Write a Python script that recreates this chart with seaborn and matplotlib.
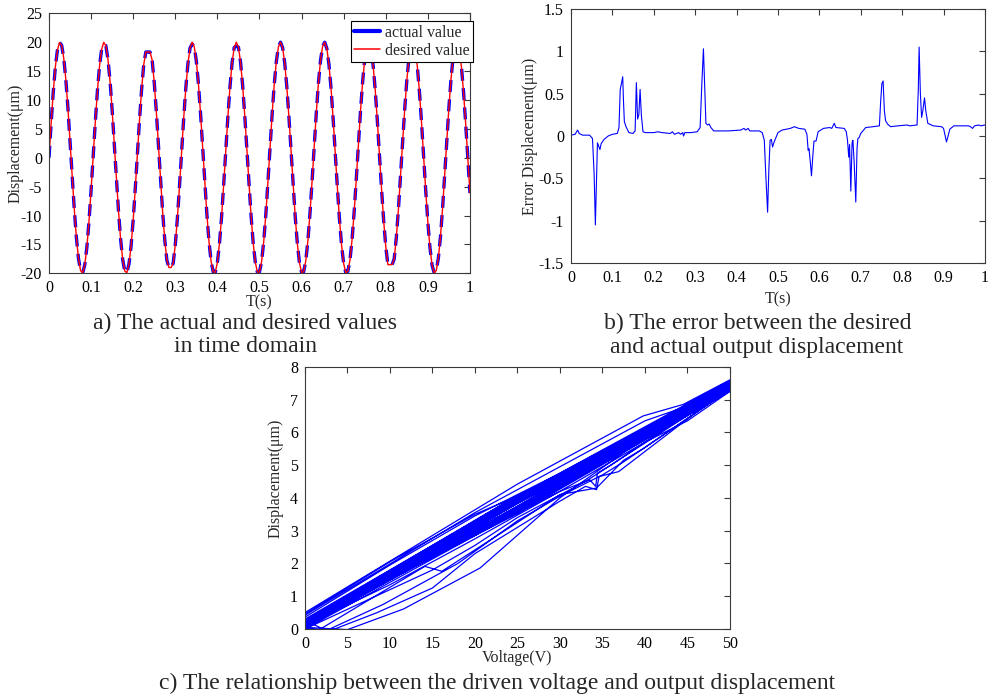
import numpy as np
import matplotlib
matplotlib.use("Agg")
import matplotlib.pyplot as plt
import seaborn as sns
from matplotlib.lines import Line2D

# ---------------- panel a: actual vs desired (sampled every 5 ms) ----------------
sample_step = 0.005
desired_value = [
    0.00, 5.91, 11.29, 15.67, 18.64, 19.95, 19.48, 17.26, 13.51, 8.55, 2.82, -3.15, -8.85, -13.76, -17.43, -19.55, -19.92, -18.52, -15.46, -11.01, -5.59,
    0.34, 6.23, 11.57, 15.88, 18.76, 19.97, 19.40, 17.09, 13.26, 8.24, 2.49, -3.49, -9.15, -14.00, -17.60, -19.62, -19.89, -18.39, -15.24, -10.73, -5.27,
    0.67, 6.55, 11.84, 16.08, 18.30, 18.30, 18.30, 16.91, 13.01, 7.94, 2.15, -3.82, -9.45, -14.24, -17.75, -19.00, -19.00, -18.25, -15.02, -10.45, -4.94,
    1.01, 6.87, 12.11, 16.27, 18.98, 20.00, 19.22, 16.73, 12.75, 7.63, 1.82, -4.15, -9.74, -14.47, -17.90, -19.74, -19.81, -18.11, -14.80, -10.16, -4.61,
    1.34, 7.18, 12.38, 16.47, 19.09, 20.00, 19.13, 16.55, 12.49, 7.31, 1.49, -4.48, -10.04, -14.70, -18.05, -19.79, -19.76, -17.97, -14.57, -9.87, -4.28,
    1.68, 7.49, 12.64, 16.66, 19.18, 20.00, 19.03, 16.36, 12.22, 7.00, 1.15, -4.80, -10.32, -14.93, -18.19, -19.84, -19.71, -17.82, -14.33, -9.57, -3.96,
    2.01, 7.80, 12.90, 16.84, 19.28, 19.99, 18.92, 16.16, 11.96, 6.68, 0.81, -5.13, -10.61, -15.15, -18.33, -19.88, -19.65, -17.66, -14.10, -9.28, -3.63,
    2.35, 8.11, 13.15, 17.02, 19.36, 19.98, 18.81, 15.96, 11.68, 6.37, 0.48, -5.45, -10.89, -15.37, -18.50, -18.50, -18.50, -17.50, -13.86, -8.98, -3.29,
    2.68, 8.42, 13.41, 17.19, 19.44, 19.96, 18.69, 15.75, 11.41, 6.05, 0.14, -5.78, -11.18, -15.58, -18.59, -19.94, -19.51, -17.34, -13.61, -8.68, -2.96,
    3.02, 8.72, 13.65, 17.36, 19.52, 19.94, 18.57, 15.54, 11.13, 5.72, -0.20, -6.10,
]
actual_value = [
    0.00, 5.91, 11.29, 15.67, 18.64, 19.95, 19.48, 17.26, 13.51, 8.55, 2.82, -3.15, -8.85, -13.76, -17.43, -19.55, -19.92, -18.52, -15.46, -11.01, -5.59,
    0.34, 6.23, 11.57, 15.88, 18.76, 19.50, 19.40, 17.09, 13.26, 8.24, 2.49, -3.49, -9.15, -14.00, -17.60, -19.62, -19.89, -18.39, -15.24, -10.73, -5.27,
    0.67, 6.55, 11.84, 16.08, 18.30, 18.30, 18.30, 16.91, 13.01, 7.94, 2.15, -3.82, -9.45, -14.24, -17.75, -19.00, -19.00, -18.25, -15.02, -10.45, -4.94,
    1.01, 6.87, 12.11, 16.27, 18.98, 19.70, 19.22, 16.73, 12.75, 7.63, 1.82, -4.15, -9.74, -14.47, -17.90, -19.74, -19.81, -18.11, -14.80, -10.16, -4.61,
    1.34, 7.18, 12.38, 16.47, 19.09, 19.30, 19.13, 16.55, 12.49, 7.31, 1.49, -4.48, -10.04, -14.70, -18.05, -19.79, -19.76, -17.97, -14.57, -9.87, -4.28,
    1.68, 7.49, 12.64, 16.66, 19.18, 20.00, 19.03, 16.36, 12.22, 7.00, 1.15, -4.80, -10.32, -14.93, -18.19, -19.84, -19.71, -17.82, -14.33, -9.57, -3.96,
    2.01, 7.80, 12.90, 16.84, 19.28, 19.99, 18.92, 16.16, 11.96, 6.68, 0.81, -5.13, -10.61, -15.15, -18.33, -19.88, -19.65, -17.66, -14.10, -9.28, -3.63,
    2.35, 8.11, 13.15, 17.02, 19.36, 19.98, 18.81, 15.96, 11.68, 6.37, 0.48, -5.45, -10.89, -15.37, -18.50, -18.50, -18.50, -17.50, -13.86, -8.98, -3.29,
    2.68, 8.42, 13.41, 17.19, 19.44, 19.96, 18.69, 15.75, 11.41, 6.05, 0.14, -5.78, -11.18, -15.58, -18.59, -19.94, -19.51, -17.34, -13.61, -8.68, -2.96,
    3.02, 8.72, 13.65, 17.36, 19.52, 19.94, 18.57, 15.54, 11.13, 5.72, -0.20, -6.10,
]
time_s = np.round(np.arange(len(desired_value)) * sample_step, 3)

a_xticks = [0, 0.1, 0.2, 0.3, 0.4, 0.5, 0.6, 0.7, 0.8, 0.9, 1]
a_xticklabels = ["0", "0.1", "0.2", "0.3", "0.4", "0.5", "0.6", "0.7", "0.8", "0.9", "1"]
a_yticks = [-20, -15, -10, -5, 0, 5, 10, 15, 20, 25]

# ---------------- panel b: error curve ----------------
error_time = [
    0.000, 0.010, 0.016, 0.020, 0.028, 0.045, 0.052, 0.056, 0.059, 0.062, 0.064, 0.067, 0.070, 0.073, 0.080, 0.090,
    0.100, 0.112, 0.116, 0.119, 0.122, 0.125, 0.127, 0.129, 0.133, 0.140, 0.150, 0.155, 0.158, 0.161, 0.164, 0.167,
    0.170, 0.174, 0.180, 0.200, 0.210, 0.220, 0.240, 0.245, 0.250, 0.260, 0.265, 0.270, 0.272, 0.275, 0.290, 0.305,
    0.312, 0.316, 0.320, 0.323, 0.326, 0.330, 0.334, 0.338, 0.345, 0.380, 0.410, 0.418, 0.422, 0.428, 0.432, 0.455,
    0.462, 0.467, 0.471, 0.475, 0.478, 0.481, 0.484, 0.487, 0.490, 0.495, 0.500, 0.510, 0.530, 0.540, 0.550, 0.565,
    0.570, 0.573, 0.575, 0.578, 0.581, 0.584, 0.587, 0.592, 0.597, 0.610, 0.625, 0.630, 0.636, 0.640, 0.660, 0.665,
    0.668, 0.671, 0.673, 0.676, 0.679, 0.681, 0.684, 0.688, 0.691, 0.693, 0.696, 0.700, 0.705, 0.712, 0.730, 0.745,
    0.748, 0.751, 0.754, 0.757, 0.760, 0.765, 0.772, 0.790, 0.812, 0.818, 0.836, 0.839, 0.841, 0.844, 0.847, 0.850,
    0.854, 0.857, 0.862, 0.875, 0.895, 0.900, 0.904, 0.907, 0.910, 0.915, 0.925, 0.960, 0.965, 0.970, 0.975, 0.985,
    0.990, 1.000,
]
error_disp = [
    0.01, 0.02, 0.07, 0.03, 0.01, 0.01, -0.03, -0.45, -1.05, -0.45, -0.08, -0.12, -0.16, -0.09, -0.04, 0.00,
    0.02, 0.03, 0.10, 0.55, 0.62, 0.70, 0.40, 0.17, 0.11, 0.04, 0.03, 0.06, 0.63, 0.20, 0.25, 0.55,
    0.25, 0.05, 0.04, 0.04, 0.05, 0.04, 0.03, 0.05, 0.02, 0.04, 0.02, 0.04, 0.00, 0.04, 0.04, 0.05,
    0.10, 0.60, 1.03, 0.60, 0.15, 0.13, 0.14, 0.10, 0.06, 0.06, 0.07, 0.09, 0.07, 0.09, 0.06, 0.06,
    0.04, -0.05, -0.50, -0.90, -0.40, -0.05, -0.04, -0.13, -0.08, -0.02, 0.04, 0.07, 0.09, 0.11, 0.09, 0.08,
    0.02, -0.17, -0.15, -0.30, -0.47, -0.25, -0.06, -0.06, 0.05, 0.09, 0.10, 0.09, 0.15, 0.10, 0.09, 0.05,
    -0.05, -0.25, -0.10, -0.65, -0.08, -0.05, -0.30, -0.78, -0.15, -0.03, -0.02, 0.03, 0.06, 0.10, 0.11, 0.12,
    0.40, 0.62, 0.65, 0.30, 0.18, 0.14, 0.11, 0.12, 0.13, 0.12, 0.13, 0.55, 1.05, 0.50, 0.22, 0.30,
    0.45, 0.30, 0.15, 0.12, 0.11, 0.09, 0.00, -0.07, -0.02, 0.08, 0.12, 0.12, 0.11, 0.09, 0.12, 0.13,
    0.12, 0.13,
]
b_yticks = [-1.5, -1, -0.5, 0, 0.5, 1, 1.5]
b_yticklabels = ["-1.5", "-1", "-0.5", "0", "0.5", "1", "1.5"]

# ---------------- panel c: voltage vs displacement (traced path) ----------------
voltage = [
    0,
    25, 50, 25, 0,
    25, 50, 25, 0,
    25, 50, 25, 0,
    25, 50, 25, 0,
    5.0, 11.6, 20.6, 30.0, 40.0, 50, 25, 0,
    25, 50, 25, 0,
    0, 25, 39.8, 44.5, 50, 25, 0,
    25, 50, 25, 0,
    25, 50, 25, 0,
    3.0, 8.4, 15.0, 20.0, 30.0, 33.0, 34.3, 34.6, 36.9, 50, 25, 0,
    25, 50, 25, 0,
    0, 20, 40, 45, 50, 25, 0,
    25, 50, 25, 0,
    1.5, 14.1, 16.1, 25, 30, 34.3, 37.5, 39.8, 50, 25, 0,
    25, 50, 25, 0,
    0, 10, 20, 30, 50, 25, 0,
    25, 50, 25, 0,
    0, 10, 20, 25, 50, 25, 0,
    25, 50, 25, 0,
    0, 15, 20, 25, 33, 50, 25, 0,
    25, 50, 25, 0,
    25, 50, 25, 0,
    2.5, 9.2, 18, 25, 30, 35, 37.5, 50, 25, 0,
    25, 50, 25, 0,
    25, 50, 25, 0,
    20, 30, 33.5, 34.2, 34.4, 36, 50, 25, 0,
    25, 50, 25, 0,
    10, 20, 30, 40, 45, 50, 25, 0,
    25, 50, 25, 0,
    25, 50, 25, 0,
    25, 50, 25, 0,
    25, 50, 25, 0,
    25, 50, 25, 0,
    25, 50, 25, 0,
    25, 50, 25, 0,
    25, 50, 25, 0,
    25, 50, 25, 0,
]
hyst_disp = [
    0.00,
    3.56, 7.25, 3.98, 0.20,
    3.62, 7.35, 4.04, 0.10,
    3.68, 7.45, 3.92, 0.25,
    3.58, 7.30, 3.86, 0.05,
    -0.02, 0.61, 1.86, 4.00, 5.85, 7.35, 4.00, 0.15,
    3.72, 7.55, 3.95, 0.28,
    0.50, 4.42, 6.50, 6.85, 7.60, 3.89, 0.08,
    3.64, 7.40, 4.02, 0.18,
    3.60, 7.28, 3.84, 0.02,
    -0.05, 0.49, 1.25, 2.30, 3.90, 4.35, 4.25, 4.65, 4.80, 7.40, 3.97, 0.12,
    3.75, 7.50, 3.90, 0.22,
    0.42, 3.55, 6.35, 6.80, 7.55, 4.00, 0.26,
    3.66, 7.38, 3.93, 0.06,
    -0.05, 1.91, 1.76, 3.25, 4.10, 4.30, 5.15, 5.50, 7.32, 3.82, 0.14,
    3.70, 7.48, 3.96, 0.24,
    0.36, 1.95, 3.45, 4.75, 7.52, 3.88, 0.10,
    3.63, 7.33, 4.05, 0.30,
    0.45, 2.05, 3.50, 4.05, 7.58, 3.94, 0.16,
    3.57, 7.27, 3.87, 0.04,
    0.00, 1.80, 2.55, 3.40, 4.50, 7.35, 3.99, 0.21,
    3.74, 7.44, 3.91, 0.13,
    3.61, 7.36, 4.03, 0.27,
    -0.05, 0.75, 2.00, 3.30, 4.05, 4.70, 5.10, 7.30, 3.85, 0.09,
    3.67, 7.42, 3.97, 0.19,
    3.59, 7.31, 3.89, 0.07,
    2.90, 4.20, 4.55, 4.35, 4.75, 5.00, 7.45, 3.95, 0.23,
    3.71, 7.52, 4.01, 0.11,
    1.35, 2.75, 4.20, 5.70, 6.35, 7.25, 3.92, 0.17,
    3.65, 7.39, 3.90, 0.17,
    3.52, 7.26, 4.08, 0.26,
    3.54, 7.34, 4.06, 0.03,
    3.69, 7.47, 3.99, 0.14,
    3.55, 7.29, 4.07, 0.22,
    3.73, 7.43, 3.93, 0.09,
    3.63, 7.37, 4.00, 0.19,
    3.58, 7.32, 3.95, 0.12,
    3.66, 7.41, 3.86, 0.08,
]
c_xticks = [0, 5, 10, 15, 20, 25, 30, 35, 40, 45, 50]
c_yticks = [0, 1, 2, 3, 4, 5, 6, 7, 8]

# ---------------- style ----------------
sns.set_theme(style="white")
plt.rcParams["font.family"] = ["Liberation Serif", "DejaVu Serif"]
plt.rcParams["axes.unicode_minus"] = False

FS = 11.5
fig = plt.figure(figsize=(9.94, 6.96), dpi=100)
fig.patch.set_facecolor("white")

axA = fig.add_axes([0.0493, 0.6073, 0.4235, 0.3736])
axB = fig.add_axes([0.5744, 0.6221, 0.4165, 0.3650])
axC = fig.add_axes([0.3068, 0.0963, 0.4276, 0.3768])


def matlab_style(ax):
    for s in ax.spines.values():
        s.set_visible(True)
        s.set_color("#3a3a3a")
        s.set_linewidth(0.8)
    ax.tick_params(direction="in", top=True, right=True, length=4, width=0.8,
                   color="#3a3a3a", labelsize=FS, labelcolor="black", pad=5)
    ax.grid(False)
    ax.set_facecolor("white")


# panel a
sns.lineplot(x=time_s, y=actual_value, ax=axA, color="#0000ff", linewidth=2.4,
             linestyle=(0, (3.6, 2.2)), errorbar=None, legend=False)
sns.lineplot(x=time_s, y=desired_value, ax=axA, color="#ff0000", linewidth=1.0,
             errorbar=None, legend=False)
axA.set_xlim(0, 1)
axA.set_ylim(-20, 25)
axA.set_xticks(a_xticks)
axA.set_xticklabels(a_xticklabels)
axA.set_yticks(a_yticks)
axA.set_yticklabels([str(v) for v in a_yticks])
matlab_style(axA)
axA.set_xlabel("T(s)", fontsize=FS, labelpad=-1.3)
axA.set_ylabel("Displacement(μm)", fontsize=FS, labelpad=-2)
handles = [Line2D([0], [0], color="#0000ff", lw=3.0), Line2D([0], [0], color="#ff0000", lw=1.1)]
leg = axA.legend(handles, ["actual value", "desired value"], loc="upper right",
                 bbox_to_anchor=(1.007, 0.97), frameon=True, fancybox=False,
                 edgecolor="black", framealpha=1, fontsize=11.5, handlelength=1.6,
                 borderpad=0.22, labelspacing=0.12, handletextpad=0.3, borderaxespad=0)
leg.get_frame().set_linewidth(0.8)

# panel b
sns.lineplot(x=error_time, y=error_disp, ax=axB, color="#0000ff", linewidth=0.8,
             sort=False, estimator=None, errorbar=None, legend=False)
axB.set_xlim(0, 1)
axB.set_ylim(-1.5, 1.5)
axB.set_xticks(a_xticks)
axB.set_xticklabels(a_xticklabels)
axB.set_yticks(b_yticks)
axB.set_yticklabels(b_yticklabels)
matlab_style(axB)
axB.set_xlabel("T(s)", fontsize=FS, labelpad=4)
axB.set_ylabel("Error Displacement(μm)", fontsize=FS, labelpad=0.5)

# panel c
sns.lineplot(x=voltage, y=hyst_disp, ax=axC, color="#0000ff", linewidth=0.9,
             sort=False, estimator=None, errorbar=None, legend=False)
axC.set_xlim(0, 50)
axC.set_ylim(0, 8)
axC.set_xticks(c_xticks)
axC.set_xticklabels([str(v) for v in c_xticks])
axC.set_yticks(c_yticks)
axC.set_yticklabels([str(v) for v in c_yticks])
matlab_style(axC)
axC.set_xlabel("Voltage(V)", fontsize=FS, labelpad=-1.2)
axC.set_ylabel("Displacement(μm)", fontsize=FS, labelpad=4.6)
axC.yaxis.label.set_y(0.573)

# captions
CFS = 17
fig.text(245 / 994, 1 - 323 / 696, "a) The actual and desired values", ha="center", va="center", fontsize=CFS)
fig.text(245 / 994, 1 - 346 / 696, "in time domain", ha="center", va="center", fontsize=CFS)
fig.text(758 / 994, 1 - 323 / 696, "b) The error between the desired", ha="center", va="center", fontsize=CFS)
fig.text(757 / 994, 1 - 348 / 696, "and actual output displacement", ha="center", va="center", fontsize=CFS)
fig.text(497 / 994, 1 - 683 / 696, "c) The relationship between the driven voltage and output displacement",
         ha="center", va="center", fontsize=CFS)

fig.savefig("out.png", dpi=100, facecolor="white")
